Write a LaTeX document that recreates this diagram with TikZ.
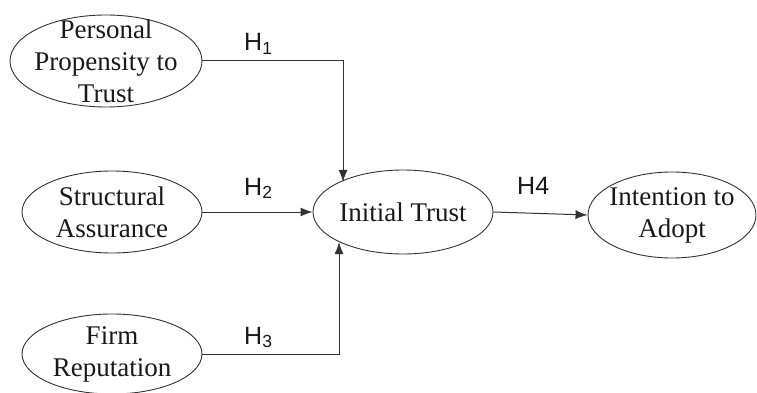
\documentclass[tikz,border=0pt]{standalone}
\usepackage{fontspec}
\setmainfont{Liberation Serif}
\setsansfont{Liberation Sans}
\usetikzlibrary{shapes.geometric, arrows.meta}

\begin{document}
\begin{tikzpicture}[x=1pt, y=-1pt, >={Latex[length=12pt, width=9pt]},
  construct/.style={ellipse, draw=black!80, line width=0.9pt, align=center,
    inner xsep=-20pt, inner ysep=-30pt, text=black!90,
    font=\fontsize{27}{32}\selectfont},
  hyp/.style={anchor=base west, inner sep=0pt, text=black!90,
    font=\sffamily\fontsize{25}{25}\selectfont},
  link/.style={->, draw=black!80, line width=1pt}]
  \useasboundingbox (0,0) rectangle (757,393);
  \node[construct, minimum width=192, minimum height=92] (PPT) at (106,61) {Personal\\Propensity to\\Trust};
  \node[construct, minimum width=180, minimum height=82] (SA) at (112,212) {Structural\\Assurance};
  \node[construct, minimum width=180, minimum height=80] (FR) at (112,354) {Firm\\Reputation};
  \node[construct, minimum width=180, minimum height=84] (IT) at (403,212) {Initial Trust};
  \node[construct, minimum width=168, minimum height=86] (ITA) at (672,215) {Intention to\\Adopt};
  \node[hyp] (H1) at (244,51) {H\textsubscript{1}};
  \node[hyp] (H2) at (244,195) {H\textsubscript{2}};
  \node[hyp] (H3) at (244,344) {H\textsubscript{3}};
  \node[hyp] (H4) at (517,194) {H4};
  \draw[link] (PPT.east) -| ([xshift=4pt]IT.north west);
  \draw[link] (SA.east) -- (IT.west);
  \draw[link] (FR.east) -| (IT.south west);
  \draw[link] (IT.east) -- (ITA.west);
\end{tikzpicture}
\end{document}
